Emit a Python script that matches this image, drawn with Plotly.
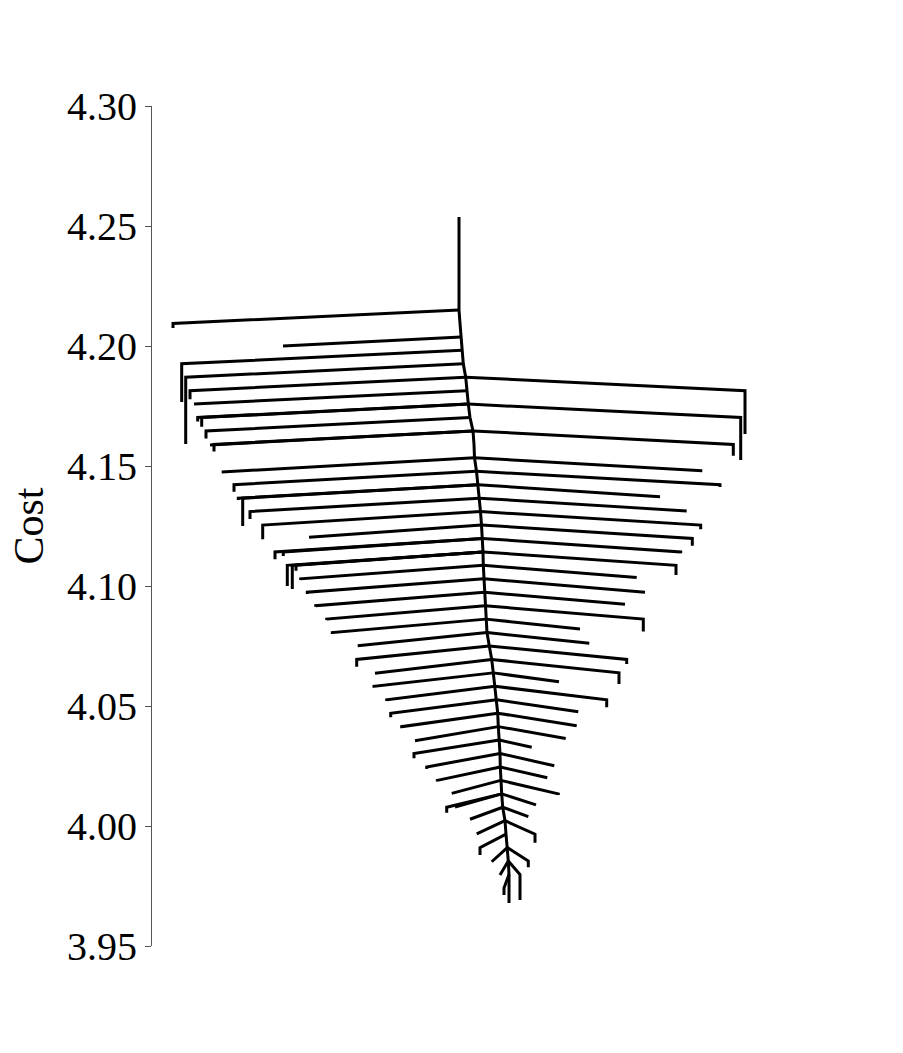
import plotly.graph_objects as go

# ---- data ----
top_cost = 4.2538          # top of the trunk
global_min = 3.9679        # lowest minimum (continues the trunk)

level_cost = [4.2150, 4.2094, 4.2038, 4.1982, 4.1926, 4.1870, 4.1814, 4.1758,
              4.1702, 4.1646, 4.1590, 4.1534, 4.1478, 4.1422, 4.1366, 4.1310,
              4.1254, 4.1198, 4.1142, 4.1086, 4.1030, 4.0974, 4.0918, 4.0862,
              4.0806, 4.0750, 4.0694, 4.0638, 4.0582, 4.0526, 4.0470, 4.0414,
              4.0358, 4.0302, 4.0246, 4.0190, 4.0134, 4.0078, 4.0022, 3.9966,
              3.9910, 3.9854, 3.9798, 3.9742]

trunk_pos = [307, 308, 309, 310, 311.3, 313.7, 314.7, 316.3, 318, 321, 322, 322.5,
             324.5, 326, 327.3, 328.5, 329.5, 330.5, 331, 331.3, 332, 332.5, 333,
             334, 335, 337.3, 339.7, 341.3, 343, 344.7, 345.7, 346.3, 347.3, 348,
             348.3, 348.7, 349.7, 350.7, 353, 354, 355.3, 356.3, 357]

left_level = [0, 2, 3, 4, 5, 6, 7, 7, 8, 9, 9, 11, 12, 13, 13, 14, 15, 16, 17, 17,
              18, 18, 18, 19, 20, 21, 22, 23, 24, 25, 26, 27, 28, 29, 30, 31, 32,
              33, 34, 35, 36, 36, 37, 38, 39, 40, 41, 42]
left_pos = [21, 131, 29.7, 33.7, 38, 42, 45.7, 49.7, 54, 58, 62, 69.7, 82, 86.3,
            90.7, 98, 110.7, 157, 123, 131.3, 135.3, 140.3, 144, 148.7, 155.3,
            163.7, 174.7, 180.3, 205.7, 204.7, 223, 222, 234.7, 238.7, 249.7, 263,
            262, 274.7, 285.3, 299.7, 294.7, 303, 318, 324.7, 328, 339.7, 348, 352]
left_min = [4.2075, 4.2000, 4.1767, 4.1592, 4.1778, 4.1758, 4.1685, 4.1664,
            4.1615, 4.1588, 4.1560, 4.1475, 4.1393, 4.1358, 4.1250, 4.1279,
            4.1195, 4.1203, 4.1111, 4.1125, 4.1000, 4.0988, 4.1064, 4.1025,
            4.0967, 4.0914, 4.0858, 4.0800, 4.0751, 4.0664, 4.0636, 4.0576,
            4.0521, 4.0453, 4.0407, 4.0355, 4.0282, 4.0238, 4.0185, 4.0136,
            4.0055, 4.0079, 4.0028, 3.9967, 3.9879, 3.9851, 3.9796, 3.9713]

right_level = [5, 7, 9, 11, 12, 13, 14, 15, 16, 17, 18, 19, 20, 21, 22, 23, 24,
               25, 26, 27, 28, 29, 30, 31, 32, 33, 34, 35, 36, 37, 38, 40, 41]
right_pos = [593, 588.7, 581.3, 550.3, 568, 508, 534.7, 548.7, 540.3, 528.7, 524,
             484.7, 493, 473, 491.3, 428, 437.3, 474.7, 467, 407, 454.7, 426.3,
             424.7, 413.7, 379.7, 402.3, 395.3, 406.3, 384, 376.3, 383, 376.3, 368]
right_min = [4.1633, 4.1525, 4.1543, 4.1480, 4.1413, 4.1372, 4.1313, 4.1236,
             4.1168, 4.1136, 4.1046, 4.1035, 4.0974, 4.0924, 4.0810, 4.0821,
             4.0761, 4.0675, 4.0592, 4.0601, 4.0495, 4.0476, 4.0418, 4.0365,
             4.0328, 4.0251, 4.0201, 4.0129, 4.0088, 4.0039, 3.9930, 3.9828,
             3.9692]

# ---- build line segments ----
xs, ys = [], []

# trunk
xs.append(trunk_pos[0]); ys.append(top_cost)
for k in range(len(trunk_pos)):
    xs.append(trunk_pos[k]); ys.append(level_cost[k])
xs.append(trunk_pos[-1]); ys.append(global_min)
xs.append(None); ys.append(None)

def add_leaf(k, p, m):
    x0, y0 = trunk_pos[k], level_cost[k]
    yend = max(m, level_cost[k + 1])
    xs.extend([x0, p]); ys.extend([y0, yend])
    if m < yend:
        xs.append(p); ys.append(m)
    xs.append(None); ys.append(None)

for k, p, m in zip(left_level, left_pos, left_min):
    add_leaf(k, p, m)
for k, p, m in zip(right_level, right_pos, right_min):
    add_leaf(k, p, m)

fig = go.Figure()
fig.add_trace(go.Scatter(x=xs, y=ys, mode="lines",
                         line=dict(color="black", width=3),
                         hoverinfo="skip", showlegend=False))

font_family = "Liberation Serif, Times New Roman, serif"
fig.update_layout(
    width=903, height=1053,
    margin=dict(l=152, r=51, t=106, b=107),
    paper_bgcolor="white", plot_bgcolor="white",
    font=dict(family=font_family, color="black"),
)
fig.update_xaxes(visible=False, range=[0, 700])
fig.update_yaxes(
    range=[3.95, 4.30], tickvals=[3.95, 4.00, 4.05, 4.10, 4.15, 4.20, 4.25, 4.30],
    tickformat=".2f", showgrid=False, zeroline=False,
    showline=True, linecolor="#555", linewidth=1,
    ticks="outside", ticklen=6, tickcolor="#555", tickwidth=1,
    tickfont=dict(family=font_family, size=40, color="black"),
    title=dict(text="Cost", font=dict(family=font_family, size=42, color="black"),
               standoff=10),
)

fig.write_html("out.html")
